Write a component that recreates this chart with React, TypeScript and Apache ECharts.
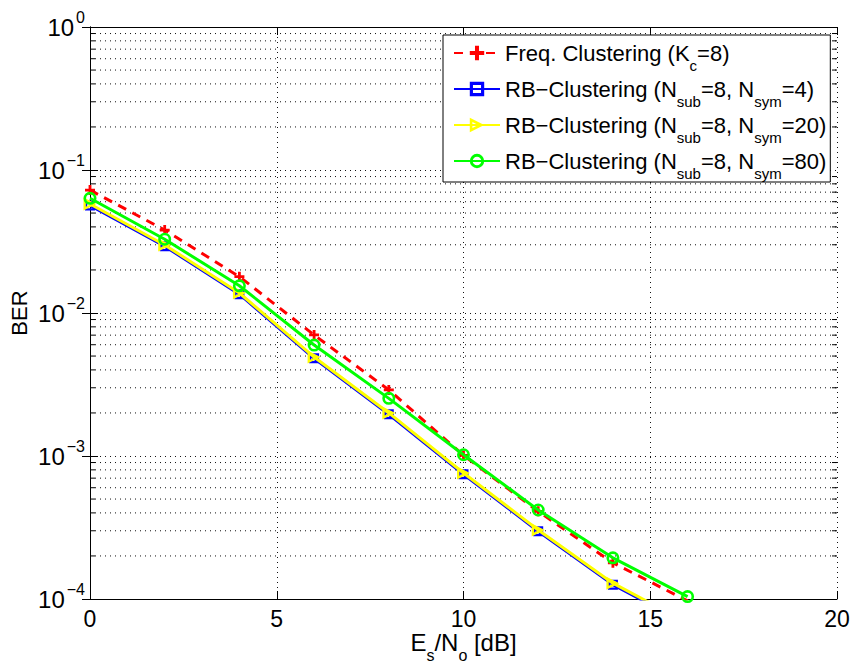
import React, { useEffect, useRef } from "react";
import * as echarts from "echarts";

const snrDb = [0, 2, 4, 6, 8, 10, 12, 14, 16];
const freqBer = [0.0724, 0.038, 0.01795, 0.00702, 0.0029, 0.00101, 0.00041, 0.000179, 0.000097];
const rb4Ber = [0.0565, 0.0293, 0.01355, 0.00482, 0.00196, 0.000745, 0.000298, 0.000126, 0.0000665];
const rb20Ber = [0.0578, 0.0299, 0.0138, 0.00492, 0.002, 0.00076, 0.000304, 0.000129, 0.000068];
const rb80Ber = [0.0634, 0.0328, 0.0155, 0.00597, 0.00253, 0.00102, 0.000419, 0.000194, 0.000104];

const xTicks = [0, 5, 10, 15, 20];
const yDecades = [1e-4, 1e-3, 1e-2, 1e-1, 1];
const minorMultipliers = [2, 3, 4, 5, 6, 7, 8, 9];

const seriesNames = [
  "Freq. Clustering (Kc=8)",
  "RB−Clustering (Nsub=8, Nsym=4)",
  "RB−Clustering (Nsub=8, Nsym=20)",
  "RB−Clustering (Nsub=8, Nsym=80)",
];
const legendRich: Record<string, string> = {
  [seriesNames[0]]: "{m|Freq. Clustering (K}{s|c}{m|=8)}",
  [seriesNames[1]]: "{m|RB−Clustering (N}{s|sub}{m|=8, N}{s|sym}{m|=4)}",
  [seriesNames[2]]: "{m|RB−Clustering (N}{s|sub}{m|=8, N}{s|sym}{m|=20)}",
  [seriesNames[3]]: "{m|RB−Clustering (N}{s|sub}{m|=8, N}{s|sym}{m|=80)}",
};

const FONT = "'Liberation Sans', Arial, Helvetica, sans-serif";

const plusSym = "path://M3.6,0H6.4V3.6H10V6.4H6.4V10H3.6V6.4H0V3.6H3.6Z";
const squareSym = "path://M0,0H10V10H0ZM2.2,2.2V7.8H7.8V2.2Z";
const triSym = "path://M0,0L10,5L0,10ZM1.8,3V7L5.8,5Z";
const circleSym =
  "path://M0,5A5,5 0 1,0 10,5A5,5 0 1,0 0,5ZM2,5A3,3 0 1,1 8,5A3,3 0 1,1 2,5Z";

export default function App() {
  const ref = useRef<HTMLDivElement>(null);
  useEffect(() => {
    document.body.style.margin = "0";
    if (!ref.current) return;
    const chart = echarts.init(ref.current, undefined, { renderer: "svg" });
    const minorVals: number[][] = [];
    for (let i = 0; i < yDecades.length - 1; i++) {
      for (const m of minorMultipliers) minorVals.push([0, yDecades[i] * m]);
    }
    const dotted = { color: "#111", width: 1, type: [1, 4] as number[] };
    const mk = (arr: number[]) => snrDb.map((x, i) => [x, arr[i]]);
    const supLabel = (v: number) => {
      const e = Math.round(Math.log10(v));
      const s = e < 0 ? "−" + -e : String(e);
      return "{m|10}{s|" + s + "}";
    };
    const xAxisBase = {
      type: "value",
      min: 0,
      max: 20,
      interval: 5,
      axisLine: { show: true, lineStyle: { color: "#000", width: 1 } },
      axisTick: { show: true, inside: true, length: 8, lineStyle: { color: "#000" } },
    };
    const yAxisBase = {
      type: "log",
      logBase: 10,
      min: 1e-4,
      max: 1,
      axisLine: { show: true, lineStyle: { color: "#000", width: 1 } },
      axisTick: { show: true, inside: true, length: 8, lineStyle: { color: "#000" } },
    };
    chart.setOption({
      animation: false,
      backgroundColor: "#fff",
      textStyle: { fontFamily: FONT },
      grid: { left: 90, right: 18, top: 27, bottom: 65, containLabel: false, outerBoundsMode: "none" },
      xAxis: [
        {
          ...xAxisBase,
          position: "bottom",
          axisLabel: {
            show: true,
            margin: 8,
            fontSize: 23,
            color: "#000",
            fontFamily: FONT,
            customValues: xTicks,
          },
          splitLine: { show: true, lineStyle: dotted },
          name: "{m|E}{s|s}{m|/N}{s|o}{m| [dB]}",
          nameLocation: "middle",
          nameGap: 31,
          nameMoveOverlap: false,
          nameTextStyle: {
            color: "#000",
            fontFamily: FONT,
            fontSize: 24,
            rich: {
              m: { fontSize: 24, lineHeight: 24, verticalAlign: "top", color: "#000", fontFamily: FONT },
              s: { fontSize: 16, lineHeight: 16, verticalAlign: "top", padding: [17, 0, 0, 0], color: "#000", fontFamily: FONT },
            },
          },
        },
        {
          ...xAxisBase,
          position: "top",
          axisLabel: { show: false },
          splitLine: { show: false },
        },
      ],
      yAxis: [
        {
          ...yAxisBase,
          position: "left",
          axisLabel: {
            show: true,
            margin: 5,
            fontSize: 24,
            color: "#000",
            fontFamily: FONT,
            padding: [0, 0, 12, 0],
            formatter: supLabel,
            rich: {
              m: { fontSize: 24, lineHeight: 24, verticalAlign: "top", padding: [6, 2, 8, 0], color: "#000", fontFamily: FONT },
              s: { fontSize: 16, lineHeight: 16, verticalAlign: "top", color: "#000", fontFamily: FONT },
            },
          },
          splitLine: { show: true, lineStyle: dotted },
          name: "BER",
          nameLocation: "middle",
          nameGap: 60,
          nameMoveOverlap: false,
          nameTextStyle: { fontSize: 22, color: "#000", fontFamily: FONT },
        },
        {
          ...yAxisBase,
          position: "right",
          axisLabel: { show: false },
          splitLine: { show: false },
        },
      ],
      legend: {
        data: seriesNames,
        orient: "vertical",
        left: 443,
        top: 35,
        padding: [7, 4, 1, 10],
        itemGap: 5,
        itemWidth: 46,
        itemHeight: 18,
        itemTextGap: 5,
        backgroundColor: "#fff",
        borderColor: "#000",
        borderWidth: 1,
        borderRadius: 0,
        formatter: (name: string) => legendRich[name] || name,
        textStyle: {
          color: "#000",
          fontFamily: FONT,
          fontSize: 22,
          rich: {
            m: { fontSize: 22, lineHeight: 22, verticalAlign: "top", color: "#000", fontFamily: FONT },
            s: { fontSize: 15, lineHeight: 15, verticalAlign: "top", padding: [16, 0, 0, 0], color: "#000", fontFamily: FONT },
          },
        },
      },
      series: [
        {
          type: "custom",
          name: "minorGrid",
          xAxisIndex: 0,
          yAxisIndex: 0,
          silent: true,
          z: 1,
          data: minorVals,
          renderItem: (params: any, api: any) => {
            const v = api.value(1);
            const p0 = api.coord([0, v]);
            const p1 = api.coord([20, v]);
            return {
              type: "group",
              children: [
                {
                  type: "line",
                  shape: { x1: p0[0], y1: p0[1], x2: p1[0], y2: p1[1] },
                  style: { stroke: "#111", lineWidth: 1, lineDash: [1, 4] },
                },
                {
                  type: "line",
                  shape: { x1: p0[0], y1: p0[1], x2: p0[0] + 5, y2: p0[1] },
                  style: { stroke: "#000", lineWidth: 1 },
                },
                {
                  type: "line",
                  shape: { x1: p1[0] - 5, y1: p1[1], x2: p1[0], y2: p1[1] },
                  style: { stroke: "#000", lineWidth: 1 },
                },
              ],
            };
          },
        },
        {
          type: "line",
          name: seriesNames[0],
          data: mk(freqBer),
          symbol: plusSym,
          symbolSize: 10,
          showAllSymbol: true,
          lineStyle: { color: "#ff0000", width: 3, type: [9, 7] },
          itemStyle: { color: "#ff0000", borderWidth: 0 },
          z: 3,
        },
        {
          type: "line",
          name: seriesNames[1],
          data: mk(rb4Ber),
          symbol: squareSym,
          symbolSize: 10,
          lineStyle: { color: "#0000ff", width: 3 },
          itemStyle: { color: "#0000ff", borderWidth: 0 },
          z: 4,
        },
        {
          type: "line",
          name: seriesNames[2],
          data: mk(rb20Ber),
          symbol: triSym,
          symbolSize: 13,
          lineStyle: { color: "#ffff00", width: 3 },
          itemStyle: { color: "#ffff00", borderWidth: 0 },
          z: 5,
        },
        {
          type: "line",
          name: seriesNames[3],
          data: mk(rb80Ber),
          symbol: circleSym,
          symbolSize: 13,
          lineStyle: { color: "#00ff00", width: 3 },
          itemStyle: { color: "#00ff00", borderWidth: 0 },
          z: 6,
        },
      ],
    });
    return () => chart.dispose();
  }, []);
  return <div ref={ref} style={{ width: 855, height: 664 }} />;
}
